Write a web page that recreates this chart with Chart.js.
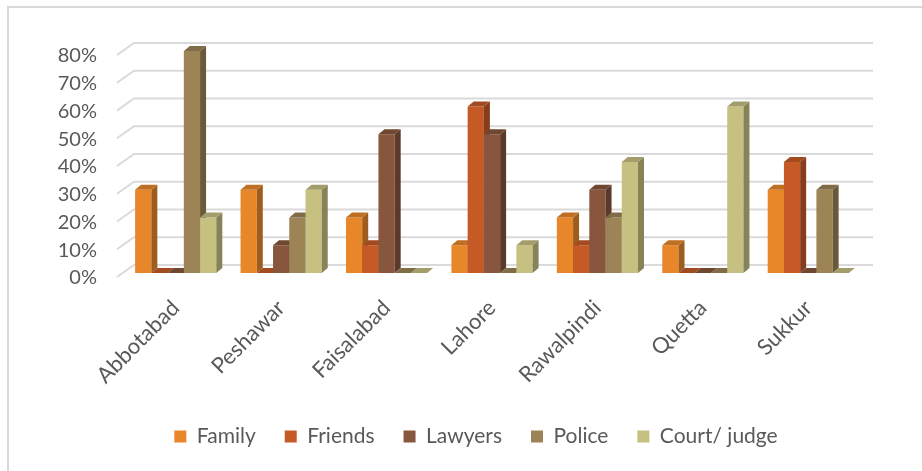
<!DOCTYPE html>
<html>
<head>
<meta charset="utf-8">
<script src="https://cdn.jsdelivr.net/npm/chart.js@4.4.1/dist/chart.umd.min.js"></script>
<style>
  html, body { margin: 0; padding: 0; background: #fff; }
  #wrap { width: 922px; height: 471px; position: relative; }
</style>
</head>
<body>
<div id="wrap"><canvas id="chart" width="922" height="471"></canvas></div>
<script>
// categories and series (percent)
const cities = ['Abbotabad', 'Peshawar', 'Faisalabad', 'Lahore', 'Rawalpindi', 'Quetta', 'Sukkur'];
const family  = [30, 30, 20, 10, 20, 10, 30];
const friends = [0, 0, 10, 60, 10, 0, 40];
const lawyers = [0, 10, 50, 50, 30, 0, 0];
const police  = [80, 20, 0, 0, 20, 0, 30];
const court   = [20, 30, 0, 10, 40, 60, 0];
const yTicks  = [0, 10, 20, 30, 40, 50, 60, 70, 80];

const seriesNames  = ['Family', 'Friends', 'Lawyers', 'Police', 'Court/ judge'];
const seriesValues = [family, friends, lawyers, police, court];
const seriesColors = ['#E8872A', '#C65A27', '#88563C', '#9C8456', '#C6C081'];

const TEXT = '#595959';
const GRID = '#dadada';
const DX = 6, DY = -5;            // bar depth
const WALL_DX = 17, WALL_DY = -12; // floor/wall depth for gridlines

function shade(hex, f) {
    const n = parseInt(hex.slice(1), 16);
    const r = Math.round(((n >> 16) & 255) * f);
    const g = Math.round(((n >> 8) & 255) * f);
    const b = Math.round((n & 255) * f);
    return `rgb(${r},${g},${b})`;
}

function poly(ctx, pts, color) {
    ctx.beginPath();
    ctx.moveTo(pts[0][0], pts[0][1]);
    for (let i = 1; i < pts.length; i++) ctx.lineTo(pts[i][0], pts[i][1]);
    ctx.closePath();
    ctx.fillStyle = color;
    ctx.fill();
}

// back wall gridlines + slanted side edges
const wallPlugin = {
    id: 'wall',
    beforeDatasetsDraw(chart) {
        const ctx = chart.ctx;
        const y = chart.scales.y;
        const area = chart.chartArea;
        ctx.save();
        ctx.strokeStyle = GRID;
        ctx.lineWidth = 2;
        yTicks.forEach(v => {
            const py = y.getPixelForValue(v);
            const x0 = area.left - 6;
            ctx.beginPath();
            ctx.moveTo(x0, py + 4);
            ctx.lineTo(x0 + WALL_DX, py + 4 + WALL_DY);
            ctx.lineTo(area.right + 12, py + 4 + WALL_DY);
            ctx.stroke();
        });
        ctx.restore();
    }
};

// draws the bars as 3d blocks, category by category
const blockPlugin = {
    id: 'blocks',
    beforeDatasetsDraw(chart) {
        const ctx = chart.ctx;
        ctx.save();
        for (let j = 0; j < cities.length; j++) {
            for (let i = 0; i < seriesValues.length; i++) {
                const bar = chart.getDatasetMeta(i).data[j];
                const c = seriesColors[i];
                const l = bar.x - bar.width / 2, r = bar.x + bar.width / 2;
                const t = bar.y, b = bar.base;
                ctx.fillStyle = c;
                ctx.fillRect(l, t, r - l, b - t);
                poly(ctx, [[r, t], [r + DX, t + DY], [r + DX, b + DY], [r, b]], shade(c, 0.68));
                poly(ctx, [[l, t], [l + DX, t + DY], [r + DX, t + DY], [r, t]], shade(c, 0.82));
            }
        }
        ctx.restore();
        return false;
    }
};

// thin frame along the top and left edge
const framePlugin = {
    id: 'frame',
    beforeDraw(chart) {
        const ctx = chart.ctx;
        ctx.save();
        ctx.fillStyle = '#fff';
        ctx.fillRect(0, 0, chart.width, chart.height);
        ctx.strokeStyle = '#d9d9d9';
        ctx.lineWidth = 2;
        ctx.beginPath();
        ctx.moveTo(8, chart.height);
        ctx.lineTo(8, 7);
        ctx.lineTo(chart.width, 7);
        ctx.stroke();
        ctx.restore();
    }
};

Chart.defaults.font.family = 'Lato, "Open Sans", sans-serif';
Chart.defaults.color = TEXT;

new Chart(document.getElementById('chart'), {
    type: 'bar',
    data: {
        labels: cities,
        datasets: seriesNames.map((name, i) => ({
            label: name,
            data: seriesValues[i],
            backgroundColor: seriesColors[i],
            borderWidth: 0
        }))
    },
    options: {
        responsive: false,
        animation: false,
        events: [],
        categoryPercentage: 0.77,
        barPercentage: 1.0,
        layout: { padding: { left: 30, right: 0, top: 51, bottom: 14 } },
        plugins: {
            tooltip: { enabled: false },
            legend: {
                position: 'bottom',
                labels: {
                    boxWidth: 12,
                    boxHeight: 12,
                    padding: 29,
                    font: { size: 21 },
                    color: TEXT
                }
            }
        },
        scales: {
            x: {
                grid: { display: false, drawTicks: false },
                border: { display: false },
                ticks: {
                    minRotation: 45,
                    maxRotation: 45,
                    padding: 22,
                    font: { size: 22 },
                    color: TEXT
                },
                afterFit(s) { s.height = 124; }
            },
            y: {
                min: 0,
                max: 80,
                grid: { display: false, drawTicks: false },
                border: { display: false },
                ticks: {
                    stepSize: 10,
                    autoSkip: false,
                    padding: 26,
                    labelOffset: 5,
                    font: { size: 20 },
                    color: TEXT,
                    callback: v => v + '%'
                },
                afterFit(s) { s.width = 93; }
            },
            y2: {
                position: 'right',
                min: 0,
                max: 80,
                grid: { display: false, drawTicks: false },
                border: { display: false },
                ticks: { display: false },
                afterFit(s) { s.width = 61; }
            }
        }
    },
    plugins: [framePlugin, wallPlugin, blockPlugin]
});
</script>
</body>
</html>
